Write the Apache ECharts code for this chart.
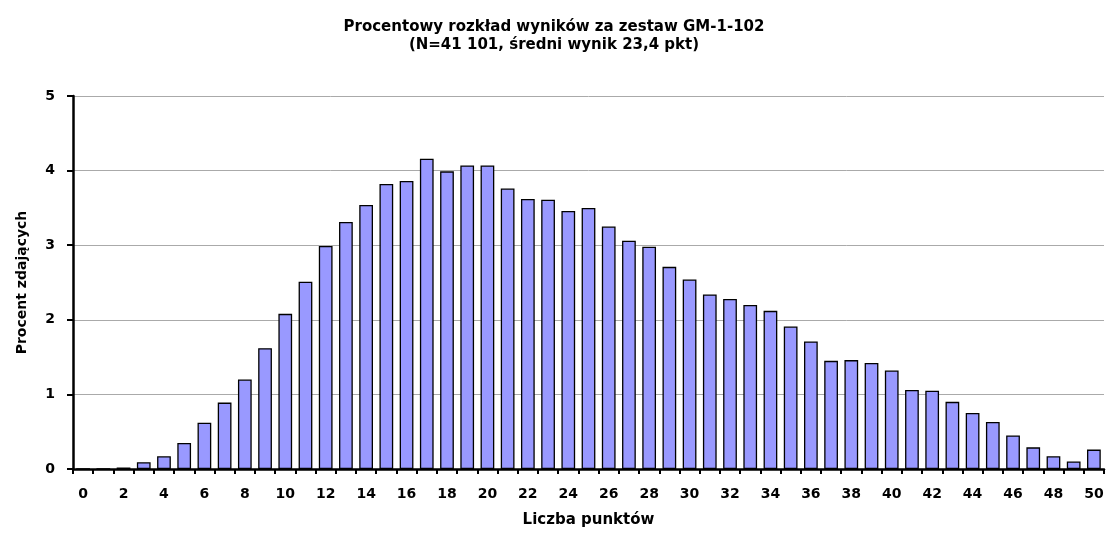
<!DOCTYPE html>
<html><head><meta charset="utf-8">
<script src="https://cdn.jsdelivr.net/npm/echarts@6/dist/echarts.min.js"></script>
<style>html,body{margin:0;padding:0;background:#fff}#c{width:1108px;height:534px}</style>
</head><body><div id="c"></div>
<script>
const categories = Array.from({length: 51}, (_, i) => String(i));
const percents = [0, 0, 0.02, 0.09, 0.17, 0.35, 0.62, 0.89, 1.2, 1.62, 2.08, 2.51, 2.99, 3.31, 3.54, 3.82, 3.86,
  4.16, 3.99, 4.07, 4.07, 3.76, 3.62, 3.61, 3.46, 3.5, 3.25, 3.06, 2.98, 2.71, 2.54, 2.34, 2.28, 2.2,
  2.12, 1.91, 1.71, 1.45, 1.46, 1.42, 1.32, 1.06, 1.05, 0.9, 0.75, 0.63, 0.45, 0.29, 0.17, 0.1, 0.26];
const titleLines = ['Procentowy rozkład wyników za zestaw GM-1-102', '(N=41 101, średni wynik 23,4 pkt)'];
const xName = 'Liczba punktów';
const yName = 'Procent zdających';

const chart = echarts.init(document.getElementById('c'), null, {renderer: 'canvas'});
const font = '"DejaVu Sans", Arial, sans-serif';
chart.setOption({
  animation: false,
  title: {
    text: titleLines.join('\n'), left: 'center', top: 13,
    textStyle: {fontFamily: font, fontSize: 15, fontWeight: 'bold', color: '#000', lineHeight: 18}
  },
  grid: {left: 73, right: 4, top: 96, bottom: 65},
  xAxis: {
    type: 'category', data: categories,
    name: xName, nameLocation: 'middle', nameGap: 44,
    nameTextStyle: {fontFamily: font, fontSize: 15, fontWeight: 'bold', color: '#000'},
    axisLine: {lineStyle: {color: '#000', width: 2.5}},
    axisTick: {show: true, alignWithLabel: false, interval: 0, length: 5, lineStyle: {color: '#000', width: 2}},
    axisLabel: {interval: 1, fontFamily: font, fontSize: 14, fontWeight: 'bold', color: '#000', margin: 18},
    splitLine: {show: false}
  },
  yAxis: {
    type: 'value', min: 0, max: 5, interval: 1,
    name: yName, nameLocation: 'middle', nameGap: 44, nameRotate: 90,
    nameTextStyle: {fontFamily: font, fontSize: 14, fontWeight: 'bold', color: '#000'},
    axisLine: {show: true, lineStyle: {color: '#000', width: 2.5}},
    axisTick: {show: true, length: 6, lineStyle: {color: '#000', width: 2}},
    axisLabel: {fontFamily: font, fontSize: 14, fontWeight: 'bold', color: '#000', margin: 18},
    splitLine: {show: true, lineStyle: {color: '#aaa', width: 1}}
  },
  series: [{
    type: 'bar', data: percents, barCategoryGap: '32%',
    itemStyle: {color: '#9999FF', borderColor: '#000', borderWidth: 1.3}
  }]
});
</script></body></html>
